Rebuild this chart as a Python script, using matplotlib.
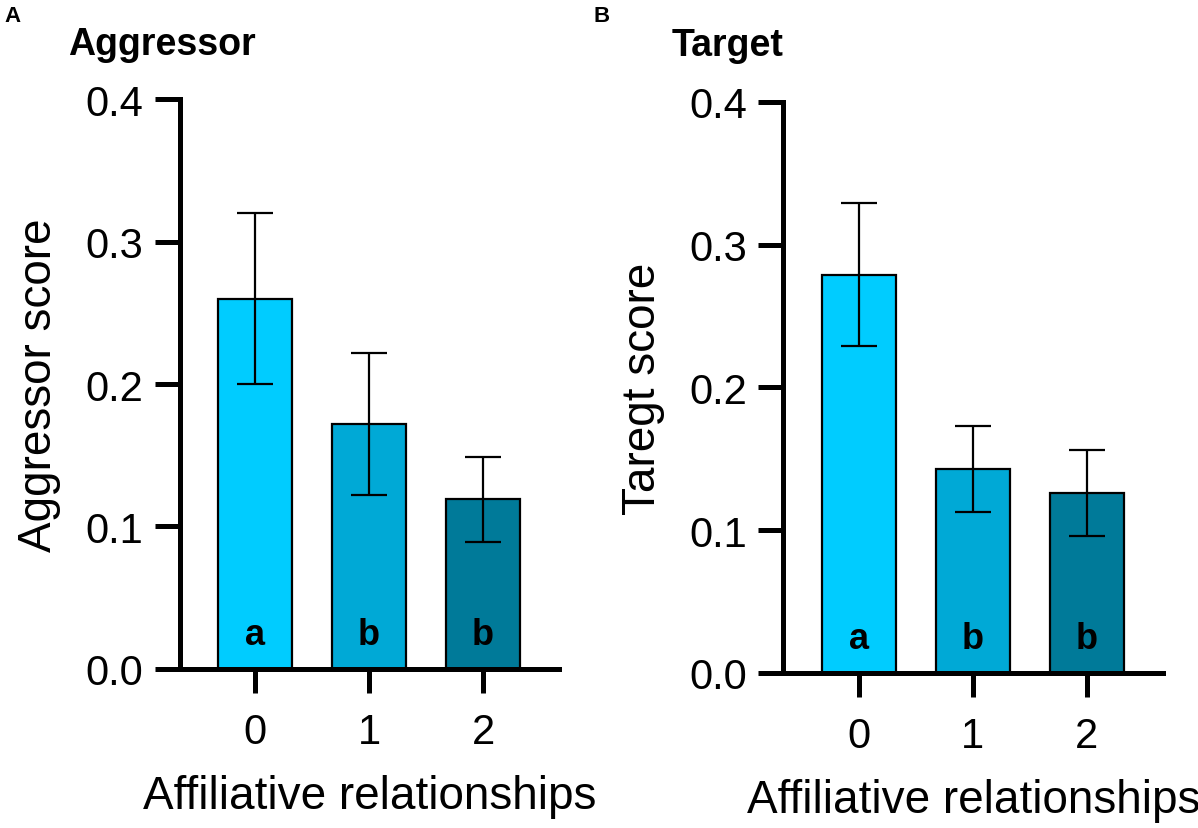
import matplotlib.pyplot as plt

# Data (mean with symmetric error bars)
groups = ["0", "1", "2"]
aggressor_mean = [0.260, 0.172, 0.119]
aggressor_err = [0.060, 0.050, 0.030]
target_mean = [0.279, 0.143, 0.126]
target_err = [0.050, 0.030, 0.030]
letters = ["a", "b", "b"]
bar_colors = ["#00CCFF", "#00A9D6", "#007A99"]

plt.rcParams["font.family"] = ["Liberation Sans", "DejaVu Sans"]

fig = plt.figure(figsize=(11.98, 8.29), dpi=100)
ax_a = fig.add_axes([0.150, 0.192, 0.317, 0.687])
ax_b = fig.add_axes([0.654, 0.187, 0.317, 0.689])


def draw_panel(ax, means, errs, ylabel):
    x = range(len(groups))
    ax.bar(x, means, width=0.65, color=bar_colors, edgecolor="black",
           linewidth=1.6, zorder=2)
    ax.errorbar(x, means, yerr=errs, fmt="none", ecolor="black",
                elinewidth=1.6, capsize=13, capthick=1.6, zorder=3)
    for xi, lab in zip(x, letters):
        ax.text(xi, 0.012, lab, ha="center", va="bottom", fontsize=26,
                fontweight="bold", zorder=4)
    ax.set_ylim(0, 0.4)
    ax.set_xlim(-0.66, 2.67)
    ax.set_yticks([0.0, 0.1, 0.2, 0.3, 0.4])
    ax.set_yticklabels(["0.0", "0.1", "0.2", "0.3", "0.4"])
    ax.set_xticks(list(x))
    ax.set_xticklabels(groups)
    for side in ["top", "right"]:
        ax.spines[side].set_visible(False)
    for side in ["left", "bottom"]:
        ax.spines[side].set_linewidth(3.6)
    ax.tick_params(axis="both", width=3.6, labelsize=30)
    ax.tick_params(axis="y", length=18, pad=8)
    ax.tick_params(axis="x", length=17, pad=14)
    ax.set_ylabel(ylabel, fontsize=33, labelpad=18)
    ax.set_xlabel("Affiliative relationships", fontsize=33, labelpad=16)


draw_panel(ax_a, aggressor_mean, aggressor_err, "Aggressor score")
draw_panel(ax_b, target_mean, target_err, "Taregt score")

fig.text(0.057, 0.946, "Aggressor", fontsize=27, fontweight="bold", va="center")
fig.text(0.561, 0.944, "Target", fontsize=27, fontweight="bold", va="center")
fig.text(0.004, 0.980, "A", fontsize=16, fontweight="bold", va="center")
fig.text(0.495, 0.980, "B", fontsize=16, fontweight="bold", va="center")

fig.savefig("out.png", dpi=100)
